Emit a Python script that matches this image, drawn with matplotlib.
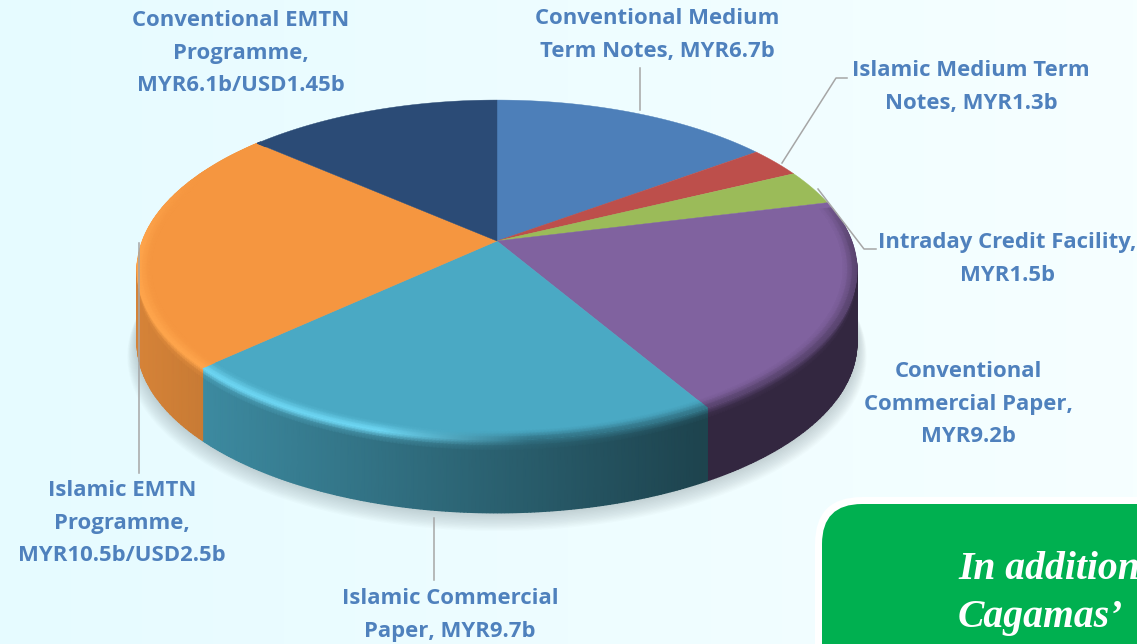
"""Funding programmes pie, drawn as a perspective 3D disc."""

import numpy as np
import matplotlib
matplotlib.use("Agg")
import matplotlib.pyplot as plt
from matplotlib.patches import FancyBboxPatch, Polygon

# === data ===
programme_values = [6.7, 1.3, 1.5, 9.2, 9.7, 10.5, 6.1]
slice_colors = ["#4d7fb9", "#bd4f4b", "#9bbb59", "#80629f", "#4aa9c4", "#f59640", "#2b4b76"]
edge_colors = ["#4d7fb9", "#bd4f4b", "#9bbb59", "#80629f", "#6fd8f5", "#ffa64d", "#2b4b76"]

labels = [
    "Conventional Medium\nTerm Notes, MYR6.7b",
    "Islamic Medium Term\nNotes, MYR1.3b",
    "Intraday Credit Facility,\nMYR1.5b",
    "Conventional\nCommercial Paper,\nMYR9.2b",
    "Islamic Commercial\nPaper, MYR9.7b",
    "Islamic EMTN\nProgramme,\nMYR10.5b/USD2.5b",
    "Conventional EMTN\nProgramme,\nMYR6.1b/USD1.45b",
]
label_xy = [(657, 35), (971, 87), (1007, 259), (968, 404), (450, 615), (122, 523), (241, 53)]

leaders = [
    [(640, 68), (640, 110)],
    [(847, 78), (836, 78), (782, 163)],
    [(818, 189), (864, 249), (876, 249)],
    [(139, 243), (139, 473)],
    [(434, 518), (434, 580)],
]

# === projection: flat disc -> picture pixels ===
CX, CY = 497, 241
RX, RY = 354.7, 165.0
K = 0.1706
DEPTH = 73


def rim(theta_deg, r=1.0, dy=0.0):
    t = np.radians(theta_deg)
    u, v = r * np.sin(t), r * np.cos(t)
    w = 1 + K * v
    return CX + RX * u / w, CY - RY * v / w + dy


def rgb(hex_color):
    return np.array(matplotlib.colors.to_rgb(hex_color))


def wall_factor(x):
    return np.clip(0.87 - (x - 140) * 0.47 / 560, 0.4, 0.87)


def glow(x):
    # bright edge on the lit (left) side, none on the right
    return np.clip((530 - x) / 150, 0, 1)


def rim_color(base, hi, x):
    g = glow(x)[..., None]
    return hi * g + base * 0.68 * (1 - g)


fig = plt.figure(figsize=(11.37, 6.44), dpi=100)
ax = fig.add_axes([0, 0, 1, 1])

# background
grad = np.linspace(0, 1, 256)[None, :, None]
bg = rgb("#e6fbff") * (1 - grad) + rgb("#f6ffff") * grad
ax.imshow(bg, extent=(0, 1137, 644, 0), aspect="auto", zorder=0)

# soft shadow under the disc
outline = np.linspace(0, 360, 361)
for i in range(14):
    xs, ys = rim(outline, 1 + i * 0.002, DEPTH + i * 0.9)
    ax.add_patch(Polygon(np.column_stack([xs, ys]), closed=True,
                         fc="#5a6a70", ec="none", alpha=0.022, zorder=1))

edges = np.concatenate([[0], np.cumsum(programme_values)]) / sum(programme_values) * 360
radii = np.array([0.962, 0.975, 0.988, 1.0])
ring_mix = np.array([0.0, 0.25, 0.7, 1.0])
rows = np.array([0.0, 3.0, 6.0, 11.0, DEPTH])

for start, end, color, hi_color in zip(edges[:-1], edges[1:], slice_colors, edge_colors):
    base, hi = rgb(color), rgb(hi_color)

    # top face
    xs, ys = rim(np.linspace(start, end, 120))
    ax.add_patch(Polygon(np.column_stack([np.r_[CX, xs], np.r_[CY, ys]]), closed=True,
                         fc=color, ec=color, lw=0.3, zorder=3))

    # side wall
    lo, hi_t = max(start, 96), min(end, 264)
    if lo < hi_t:
        thetas = np.linspace(lo, hi_t, int((hi_t - lo) * 2) + 2)
        X = np.array([rim(thetas, dy=d)[0] for d in rows])
        Y = np.array([rim(thetas, dy=d)[1] for d in rows])
        C = np.zeros(X.shape + (3,))
        top = rim_color(base, hi, X[0])
        wall = base * wall_factor(X[0])[..., None]
        for j, m in enumerate([0.0, 0.3, 0.75, 1.0, 1.0]):
            C[j] = top * (1 - m) + wall * m
        ax.pcolormesh(X, Y, C, shading="gouraud", zorder=2)

    # inner rounding of the rim on the top face
    lo, hi_t = max(start, 78), min(end, 312)
    if lo < hi_t:
        thetas = np.linspace(lo, hi_t, int((hi_t - lo) * 2) + 2)
        X = np.array([rim(thetas, r)[0] for r in radii])
        Y = np.array([rim(thetas, r)[1] for r in radii])
        amp = np.clip((Y[-1] - 175) / 70, 0, 1)[..., None]
        target = rim_color(base, hi, X[-1])
        C = np.zeros(X.shape + (3,))
        for j, m in enumerate(ring_mix):
            C[j] = base * (1 - m * amp) + target * m * amp
        ax.pcolormesh(X, Y, C, shading="gouraud", zorder=4)

# leader lines
for pts in leaders:
    xs, ys = zip(*pts)
    ax.plot(xs, ys, color="#a6a6a6", lw=1.1, zorder=5)

# labels
for txt, (x, y) in zip(labels, label_xy):
    ax.text(x, y, txt, ha="center", va="center", family="Open Sans", weight="bold",
            fontsize=15.9, color="#4f81bd", linespacing=1.7, zorder=6)

# green call-out, runs off the page
for (x0, y0, rad, col) in [(815, 497, 47, "white"), (822, 504, 40, "#00b050")]:
    ax.add_patch(FancyBboxPatch((x0, y0), 500, 300, boxstyle=f"round,pad=0,rounding_size={rad}",
                                fc=col, ec="none", zorder=7))
ax.text(958, 579, "In addition", family="Liberation Serif", weight="bold", style="italic",
        fontsize=28.5, color="white", va="baseline", zorder=8)
ax.text(958, 627, "Cagamas’", family="Liberation Serif", weight="bold", style="italic",
        fontsize=28.5, color="white", va="baseline", zorder=8)

ax.set_xlim(0, 1137)
ax.set_ylim(644, 0)
ax.axis("off")
fig.savefig("out.png", dpi=100)
